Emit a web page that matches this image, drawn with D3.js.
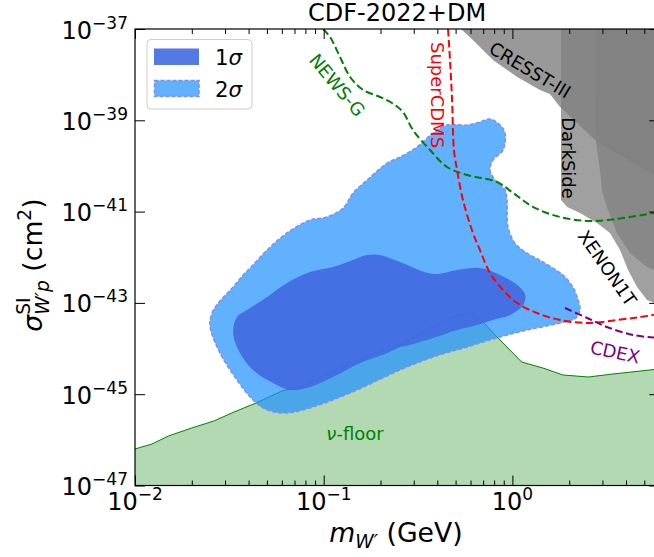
<!DOCTYPE html>
<html><head><meta charset="utf-8">
<script src="https://cdn.jsdelivr.net/npm/d3@7"></script>
<style>body{margin:0;background:#fff}svg{display:block;font-family:"DejaVu Sans",sans-serif}</style>
</head><body><svg id="c" width="654" height="557"></svg>
<script>
// ---------- data ----------
const massTicks = [1e-2, 1e-1, 1e0];
const massTickExp = ["\u22122", "\u22121", "0"];
const sigmaTicks = [1e-47, 1e-45, 1e-43, 1e-41, 1e-39, 1e-37];
const sigmaTickExp = ["\u221247", "\u221245", "\u221243", "\u221241", "\u221239", "\u221237"];

// [mass (GeV), sigma (cm^2)]
const contour2sigma = [[0.0250,2.97e-44],[0.0256,6.0e-44],[0.0282,1.10e-43],[0.0331,2.23e-43],[0.0374,4.08e-43],[0.0417,6.43e-43],[0.0501,1.44e-42],[0.0639,3.40e-42],[0.0846,6.55e-42],[0.104,7.62e-42],[0.127,1.20e-41],[0.143,2.55e-41],[0.170,4.92e-41],[0.217,1.16e-40],[0.254,1.57e-40],[0.312,2.60e-40],[0.380,5.27e-40],[0.450,7.89e-40],[0.575,7.89e-40],[0.673,9.18e-40],[0.761,1.07e-39],[0.860,7.89e-40],[0.914,5.27e-40],[0.892,2.23e-40],[0.789,1.35e-40],[0.761,8.15e-41],[0.809,4.92e-41],[0.914,2.97e-41],[0.936,1.80e-41],[0.948,4.60e-42],[1.03,2.05e-42],[1.17,1.30e-42],[1.45,7.87e-43],[1.85,4.08e-43],[2.09,2.23e-43],[2.23,1.16e-43],[2.28,6.98e-44],[2.17,4.67e-44],[1.79,3.63e-44],[1.20,2.55e-44],[0.860,1.79e-44],[0.575,1.08e-44],[0.380,6.53e-45],[0.254,3.39e-45],[0.138,1.06e-45],[0.0878,5.25e-46],[0.0639,3.87e-46],[0.0501,4.51e-46],[0.0422,7.46e-46],[0.0347,2.05e-45],[0.0282,8.0e-45]];
const contour1sigma = [[0.0331,2.19e-44],[0.0347,4.91e-44],[0.0392,6.98e-44],[0.0501,1.35e-43],[0.0639,2.73e-43],[0.0846,4.75e-43],[0.112,6.11e-43],[0.143,8.71e-43],[0.170,1.12e-42],[0.199,1.12e-42],[0.254,7.87e-43],[0.380,4.30e-43],[0.509,5.26e-43],[0.673,5.82e-43],[0.860,4.08e-43],[1.06,2.47e-43],[1.17,1.49e-43],[1.14,9.0e-44],[0.971,5.43e-44],[0.789,4.22e-44],[0.649,3.28e-44],[0.509,2.55e-44],[0.380,1.70e-44],[0.287,1.20e-44],[0.254,1.08e-44],[0.217,8.0e-45],[0.156,4.82e-45],[0.112,2.38e-45],[0.0846,1.44e-45],[0.0663,1.24e-45],[0.0539,1.76e-45],[0.0422,3.39e-45],[0.0360,8.0e-45]];
const nuFloor = [[0.01,6.3e-47],[0.0123,8.1e-47],[0.015,1.21e-46],[0.02,1.82e-46],[0.0262,2.59e-46],[0.0335,4.07e-46],[0.0438,6.41e-46],[0.0601,1.18e-45],[0.0767,1.51e-45],[0.112,3.22e-45],[0.170,6.87e-45],[0.254,1.20e-44],[0.344,2.55e-44],[0.467,4.67e-44],[0.596,6.32e-44],[0.699,3.82e-44],[0.829,1.79e-44],[1.12,5.07e-45],[1.45,3.75e-45],[1.85,2.64e-45],[2.52,2.38e-45],[3.41,2.77e-45],[6,3.57e-45]];
const newsG = [[0.0992,1e-37],[0.108,6.7e-38],[0.122,2.44e-38],[0.138,8.9e-39],[0.162,4.6e-39],[0.199,3.24e-39],[0.230,2.39e-39],[0.263,1.52e-39],[0.297,6.14e-40],[0.366,2.23e-40],[0.450,9.5e-41],[0.575,6.34e-41],[0.829,4.45e-41],[1.01,2.55e-41],[1.29,1.26e-41],[1.79,7.62e-42],[2.58,6.22e-42],[3.86,7.24e-42],[6,9.8e-42]];
const superCDMS = [[0.456,1e-37],[0.467,2.09e-38],[0.479,2.79e-39],[0.490,2.23e-40],[0.509,8.15e-41],[0.547,1.80e-41],[0.618,3.40e-42],[0.673,1.44e-42],[0.761,4.52e-43],[0.892,1.92e-43],[1.06,9.95e-44],[1.35,6.0e-44],[1.79,4.22e-44],[2.49,3.63e-44],[3.58,4.22e-44],[4.75,4.91e-44],[6,5.71e-44]];
const cdex = [[1.90,7.73e-44],[2.49,4.67e-44],[3.17,2.97e-44],[4.36,1.98e-44],[6,1.70e-44]];
const cresst = [[0.534,1e-37],[0.618,5.74e-38],[0.789,2.09e-38],[1.06,8.89e-39],[1.40,4.61e-39],[1.58,3.77e-39],[1.79,1.95e-39],[2.81,3.35e-40],[6,5.4e-41]];
const darkSide = [[1.81,1e-37],[1.81,1.80e-41],[1.95,1.26e-41],[2.28,9.31e-42],[2.81,5.62e-42],[3.29,3.40e-42],[3.72,1.44e-42],[4.10,5.26e-43],[4.58,2.23e-43],[5.17,1.16e-43],[6,8.99e-44]];
const xenon1T = [[2.74,1e-37],[2.77,3.35e-40],[2.91,8.15e-41],[2.98,2.97e-41],[3.17,1.26e-41],[3.58,3.40e-42],[4.20,1.24e-42],[5.17,6.11e-43],[6,4.75e-43]];

const labelText = ["NEWS-G", "SuperCDMS", "CRESST-III", "DarkSide", "XENON1T", "CDEX"];
const labelMass = [0.118, 0.3985, 1.24, 1.995, 3.19, 3.50];
const labelSigma = [5.93e-39, 3.58e-39, 1.27e-38, 1.49e-40, 5.82e-43, 8.4e-45];

// ---------- layout ----------
const svg = d3.select("#c");
const L = 135, T = 29, B = 485.5, decade = 188.7;
const x = d3.scaleLog().domain([1e-2, 6]).range([L, L + decade * Math.log10(6 / 1e-2)]);
const y = d3.scaleLog().domain([1e-47, 1e-37]).range([B, T]);
const R = x.range()[1];
const xMax = x.domain()[1], yMax = y.domain()[1];

svg.append("defs").append("clipPath").attr("id", "clip")
  .append("rect").attr("x", L).attr("y", T).attr("width", R - L).attr("height", B - T);
const g = svg.append("g").attr("clip-path", "url(#clip)");

const lin = d3.line().x(d => x(d[0])).y(d => y(d[1]));
const smooth = d3.line().x(d => x(d[0])).y(d => y(d[1])).curve(d3.curveCatmullRom.alpha(0.5));
const closed = d3.line().x(d => x(d[0])).y(d => y(d[1])).curve(d3.curveCatmullRomClosed.alpha(0.5));

// grey excluded regions
[cresst, darkSide, xenon1T].forEach((reg, i) => {
  g.append("path").attr("d", lin(reg.concat([[xMax, yMax]])) + "Z")
    .attr("fill", "#808080").attr("fill-opacity", i === 0 ? 0.8 : 0.75);
});

// neutrino floor
g.append("path").attr("d", d3.area().x(d => x(d[0])).y0(B).y1(d => y(d[1]))(nuFloor))
  .attr("fill", "green").attr("fill-opacity", 0.3);
g.append("path").attr("d", lin(nuFloor)).attr("fill", "none").attr("stroke", "green").attr("stroke-width", 1);

// contours
g.append("path").attr("d", closed(contour2sigma))
  .attr("fill", "#1e90ff").attr("fill-opacity", 0.7)
  .attr("stroke", "#8090e6").attr("stroke-width", 1.5).attr("stroke-dasharray", "4,2");
g.append("path").attr("d", closed(contour1sigma))
  .attr("fill", "#4169e1").attr("fill-opacity", 0.9);

// experiment limits
const lineStyle = [[newsG, "green"], [superCDMS, "red"], [cdex, "purple"]];
lineStyle.forEach(([d, c]) => {
  g.append("path").attr("d", smooth(d)).attr("fill", "none").attr("stroke", c)
    .attr("stroke-width", 2).attr("stroke-dasharray", "7.5,3.5");
});

// labels
const labelAngle = [50, 90, 31, 90, 55, 12];
const labelColor = ["green", "red", "black", "black", "black", "purple"];
labelText.forEach((t, i) => {
  g.append("text").attr("transform", `translate(${x(labelMass[i])},${y(labelSigma[i])}) rotate(${labelAngle[i]})`)
    .attr("text-anchor", "middle").attr("dominant-baseline", "central")
    .attr("font-size", 18).attr("fill", labelColor[i]).text(t);
});
const nu = g.append("text").attr("x", x(0.1465)).attr("y", y(1.41e-46))
  .attr("text-anchor", "middle").attr("dominant-baseline", "central")
  .attr("font-size", 18).attr("fill", "green");
nu.append("tspan").attr("font-style", "italic").text("\u03bd");
nu.append("tspan").text("-floor");

// ---------- axes (inward ticks on all sides) ----------
const allX = x.ticks().filter(v => v <= xMax);
const minorX = allX.filter(v => Math.abs(Math.log10(v) - Math.round(Math.log10(v))) > 1e-6);
function axisDraw(axis, tr) {
  const a = svg.append("g").attr("transform", tr).call(axis);
  a.select(".domain").remove();
  a.selectAll("line").attr("stroke", "#000").attr("stroke-width", 1);
}
axisDraw(d3.axisBottom(x).tickValues(massTicks).tickSize(-10).tickFormat(""), `translate(0,${B})`);
axisDraw(d3.axisBottom(x).tickValues(minorX).tickSize(-5).tickFormat(""), `translate(0,${B})`);
axisDraw(d3.axisTop(x).tickValues(massTicks).tickSize(-10).tickFormat(""), `translate(0,${T})`);
axisDraw(d3.axisTop(x).tickValues(minorX).tickSize(-5).tickFormat(""), `translate(0,${T})`);
axisDraw(d3.axisLeft(y).tickValues(sigmaTicks).tickSize(-10).tickFormat(""), `translate(${L},0)`);
axisDraw(d3.axisRight(y).tickValues(sigmaTicks).tickSize(-10).tickFormat(""), `translate(${R},0)`);

svg.append("rect").attr("x", L).attr("y", T).attr("width", R - L).attr("height", B - T)
  .attr("fill", "none").attr("stroke", "#000").attr("stroke-width", 1.2);

// tick labels
massTicks.forEach((v, i) => {
  const t = svg.append("text").attr("x", x(v)).attr("y", B + 24.5).attr("text-anchor", "middle").attr("font-size", 24);
  t.append("tspan").text("10");
  t.append("tspan").attr("dy", -10).attr("font-size", 17).text(massTickExp[i]);
});
sigmaTicks.forEach((v, i) => {
  const t = svg.append("text").attr("x", 128).attr("y", y(v) + 9.5).attr("text-anchor", "end").attr("font-size", 24);
  t.append("tspan").text("10");
  t.append("tspan").attr("dy", -10).attr("font-size", 17).text(sigmaTickExp[i]);
});

// title
svg.append("text").attr("x", (L + R) / 2).attr("y", 20.5).attr("text-anchor", "middle")
  .attr("font-size", 24).text("CDF-2022+DM");

// x label
const xl = svg.append("text").attr("x", 396).attr("y", 542).attr("text-anchor", "middle").attr("font-size", 26.7);
xl.append("tspan").attr("font-style", "italic").text("m");
xl.append("tspan").attr("font-style", "italic").attr("font-size", 18.7).attr("dy", 6).text("W\u2032");
xl.append("tspan").attr("dy", -6).text(" (GeV)");

// y label
const yl = svg.append("text").attr("transform", "translate(42,265) rotate(-90)")
  .attr("text-anchor", "middle").attr("font-size", 26.7);
yl.append("tspan").attr("font-style", "italic").text("\u03c3");
yl.append("tspan").attr("font-size", 18.7).attr("dy", -12).text("SI");
yl.append("tspan").attr("font-size", 18.7).attr("font-style", "italic").attr("dx", -17.4).attr("dy", 19).text("W\u2032p");
yl.append("tspan").attr("dy", -7).text(" (cm");
yl.append("tspan").attr("font-size", 18.7).attr("dy", -11).text("2");
yl.append("tspan").attr("dy", 11).text(")");

// legend
const lg = svg.append("g");
lg.append("rect").attr("x", 147).attr("y", 39.5).attr("width", 105).attr("height", 69.5).attr("rx", 4)
  .attr("fill", "#fff").attr("fill-opacity", 0.8).attr("stroke", "#ccc").attr("stroke-width", 1);
lg.append("rect").attr("x", 154).attr("y", 48.5).attr("width", 45).attr("height", 16.5)
  .attr("fill", "#4169e1").attr("fill-opacity", 0.9);
lg.append("rect").attr("x", 154.5).attr("y", 80.5).attr("width", 44.5).attr("height", 16)
  .attr("fill", "#1e90ff").attr("fill-opacity", 0.7)
  .attr("stroke", "#8090e6").attr("stroke-width", 1.5).attr("stroke-dasharray", "4,2");
["1", "2"].forEach((n, i) => {
  const t = lg.append("text").attr("x", 215).attr("y", 64.5 + i * 32).attr("font-size", 21.3);
  t.append("tspan").text(n);
  t.append("tspan").attr("font-style", "italic").text("\u03c3");
});
</script></body></html>
